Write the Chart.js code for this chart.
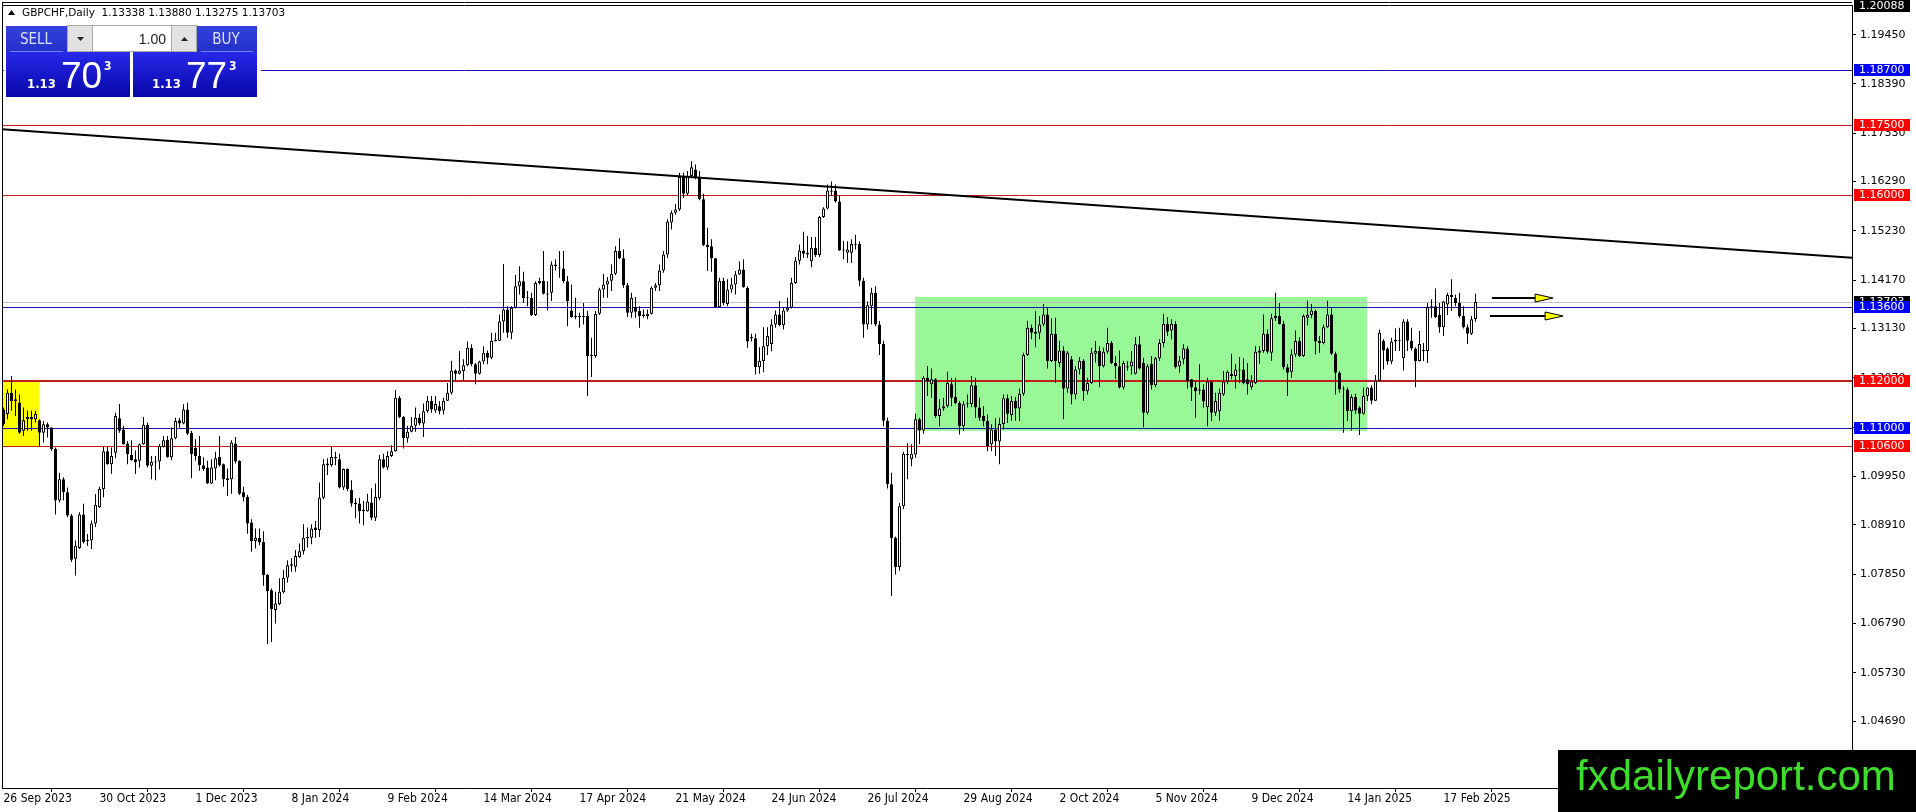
<!DOCTYPE html>
<html>
<head>
<meta charset="utf-8">
<title>GBPCHF Daily</title>
<script src="https://cdn.jsdelivr.net/npm/chart.js@4.4.1/dist/chart.umd.min.js"></script>
<style>
  html, body { margin: 0; padding: 0; background: #fff; overflow: hidden; }
  canvas { display: block; }
</style>
</head>
<body>
<canvas id="gbpchf" width="1916" height="812"></canvas>
<script>
// GBPCHF daily bars, 26 Sep 2023 .. late Feb 2025, one value per bar
const opens = [
  1.1139, 1.1129, 1.1175, 1.1157, 1.1154, 1.1093, 1.1118, 1.1123, 1.1118, 1.1116,
  1.1089, 1.1107, 1.1100, 1.1054, 1.0943, 1.0989, 1.0961, 1.0911, 1.0818, 1.0841,
  1.0913, 1.0859, 1.0857, 1.0894, 1.0929, 1.0968, 1.1049, 1.1021, 1.1046, 1.1120,
  1.1096, 1.1066, 1.1041, 1.1032, 1.1029, 1.1064, 1.1106, 1.1018, 1.1027, 1.1027,
  1.1059, 1.1074, 1.1036, 1.1077, 1.1116, 1.1109, 1.1139, 1.1089, 1.1056, 1.1039,
  1.1019, 1.1014, 1.0980, 1.1012, 1.1037, 1.1021, 1.0991, 1.0989, 1.1066, 1.1028,
  1.0961, 1.0951, 1.0896, 1.0856, 1.0863, 1.0854, 1.0783, 1.0750, 1.0708, 1.0720,
  1.0746, 1.0777, 1.0803, 1.0801, 1.0822, 1.0834, 1.0862, 1.0863, 1.0885, 1.0880,
  1.0949, 1.1023, 1.1019, 1.1037, 1.1032, 1.0971, 1.1011, 1.0966, 1.0939, 1.0937,
  1.0923, 1.0920, 1.0939, 1.0906, 1.0948, 1.1032, 1.1014, 1.1039, 1.1049, 1.1164,
  1.1123, 1.1077, 1.1091, 1.1104, 1.1121, 1.1109, 1.1135, 1.1157, 1.1137, 1.1146,
  1.1137, 1.1158, 1.1175, 1.1223, 1.1216, 1.1222, 1.1234, 1.1272, 1.1236, 1.1216,
  1.1242, 1.1261, 1.1250, 1.1286, 1.1287, 1.1328, 1.1354, 1.1304, 1.1358, 1.1404,
  1.1415, 1.1379, 1.1379, 1.1342, 1.1411, 1.1416, 1.1388, 1.1390, 1.1447, 1.1444,
  1.1442, 1.1415, 1.1352, 1.1338, 1.1339, 1.1338, 1.1340, 1.1256, 1.1254, 1.1345,
  1.1397, 1.1408, 1.1416, 1.1431, 1.1480, 1.1464, 1.1406, 1.1347, 1.1359, 1.1351,
  1.1343, 1.1340, 1.1345, 1.1401, 1.1406, 1.1438, 1.1472, 1.1541, 1.1562, 1.1569,
  1.1639, 1.1603, 1.1641, 1.1655, 1.1637, 1.1591, 1.1493, 1.1490, 1.1464, 1.1359,
  1.1416, 1.1366, 1.1397, 1.1408, 1.1429, 1.1440, 1.1401, 1.1295, 1.1292, 1.1230,
  1.1243, 1.1275, 1.1280, 1.1322, 1.1343, 1.1320, 1.1352, 1.1358, 1.1411, 1.1459,
  1.1481, 1.1476, 1.1458, 1.1487, 1.1471, 1.1553, 1.1571, 1.1607, 1.1610, 1.1586,
  1.1483, 1.1476, 1.1476, 1.1493, 1.1495, 1.1416, 1.1322, 1.1361, 1.1390, 1.1322,
  1.1280, 1.1115, 1.0978, 1.0863, 1.0800, 1.0931, 1.1041, 1.1032, 1.1042, 1.1118,
  1.1094, 1.1207, 1.1193, 1.1204, 1.1125, 1.1141, 1.1146, 1.1193, 1.1166, 1.1153,
  1.1103, 1.1152, 1.1151, 1.1191, 1.1143, 1.1125, 1.1114, 1.1064, 1.1096, 1.1070,
  1.1108, 1.1163, 1.1127, 1.1157, 1.1141, 1.1173, 1.1256, 1.1315, 1.1302, 1.1304,
  1.1322, 1.1343, 1.1243, 1.1302, 1.1239, 1.1266, 1.1184, 1.1247, 1.1171, 1.1225,
  1.1244, 1.1178, 1.1196, 1.1259, 1.1265, 1.1232, 1.1263, 1.1282, 1.1239, 1.1232,
  1.1186, 1.1229, 1.1232, 1.1216, 1.1279, 1.1239, 1.1132, 1.1237, 1.1191, 1.1249,
  1.1282, 1.1323, 1.1309, 1.1323, 1.1232, 1.1247, 1.1270, 1.1204, 1.1187, 1.1182,
  1.1182, 1.1144, 1.1199, 1.1132, 1.1135, 1.1171, 1.1199, 1.1216, 1.1211, 1.1225,
  1.1225, 1.1204, 1.1187, 1.1196, 1.1266, 1.1265, 1.1302, 1.1261, 1.1335, 1.1340,
  1.1323, 1.1230, 1.1220, 1.1257, 1.1286, 1.1254, 1.1336, 1.1342, 1.1351, 1.1286,
  1.1282, 1.1316, 1.1343, 1.1259, 1.1218, 1.1184, 1.1182, 1.1135, 1.1166, 1.1143,
  1.1130, 1.1168, 1.1186, 1.1158, 1.1201, 1.1286, 1.1270, 1.1242, 1.1285, 1.1289,
  1.1249, 1.1328, 1.1287, 1.1270, 1.1243, 1.1266, 1.1265, 1.1359, 1.1361, 1.1342,
  1.1316, 1.1365, 1.1385, 1.1379, 1.1368, 1.1340, 1.1316, 1.1302, 1.13338
];
const highs = [
  1.1143, 1.1182, 1.1211, 1.1182, 1.1171, 1.1143, 1.1136, 1.1136, 1.1136, 1.1118,
  1.1114, 1.1111, 1.1101, 1.1057, 1.1003, 1.0993, 1.0971, 1.0914, 1.0857, 1.0918,
  1.0936, 1.0871, 1.0900, 1.0957, 1.0973, 1.1059, 1.1059, 1.1057, 1.1132, 1.1151,
  1.1104, 1.1071, 1.1073, 1.1051, 1.1066, 1.1123, 1.1111, 1.1039, 1.1039, 1.1064,
  1.1082, 1.1082, 1.1100, 1.1121, 1.1121, 1.1150, 1.1154, 1.1093, 1.1075, 1.1082,
  1.1036, 1.1029, 1.1032, 1.1048, 1.1082, 1.1023, 1.1012, 1.1073, 1.1080, 1.1030,
  1.0973, 1.0955, 1.0903, 1.0883, 1.0883, 1.0877, 1.0786, 1.0754, 1.0747, 1.0776,
  1.0794, 1.0815, 1.0819, 1.0837, 1.0851, 1.0892, 1.0885, 1.0892, 1.0899, 1.0982,
  1.1032, 1.1034, 1.1059, 1.1048, 1.1044, 1.1012, 1.1012, 1.0987, 1.0948, 1.0949,
  1.0942, 1.0958, 1.0969, 1.0980, 1.1041, 1.1044, 1.1049, 1.1062, 1.1181, 1.1168,
  1.1125, 1.1104, 1.1123, 1.1143, 1.1130, 1.1152, 1.1168, 1.1168, 1.1168, 1.1157,
  1.1164, 1.1196, 1.1244, 1.1225, 1.1265, 1.1247, 1.1285, 1.1279, 1.1239, 1.1244,
  1.1275, 1.1266, 1.1304, 1.1304, 1.1343, 1.1452, 1.1361, 1.1361, 1.1428, 1.1447,
  1.1435, 1.1394, 1.1390, 1.1415, 1.1422, 1.1480, 1.1415, 1.1458, 1.1462, 1.1480,
  1.1480, 1.1426, 1.1408, 1.1379, 1.1347, 1.1368, 1.1351, 1.1293, 1.1351, 1.1401,
  1.1431, 1.1424, 1.1451, 1.1490, 1.1507, 1.1483, 1.1411, 1.1390, 1.1381, 1.1361,
  1.1354, 1.1354, 1.1404, 1.1411, 1.1451, 1.1480, 1.1548, 1.1567, 1.1581, 1.1648,
  1.1648, 1.1652, 1.1673, 1.1666, 1.1652, 1.1603, 1.1530, 1.1505, 1.1465, 1.1422,
  1.1422, 1.1419, 1.1422, 1.1437, 1.1457, 1.1462, 1.1404, 1.1302, 1.1302, 1.1273,
  1.1316, 1.1316, 1.1333, 1.1352, 1.1372, 1.1358, 1.1379, 1.1422, 1.1467, 1.1494,
  1.1521, 1.1512, 1.1510, 1.1510, 1.1555, 1.1574, 1.1623, 1.1629, 1.1623, 1.1598,
  1.1502, 1.1501, 1.1505, 1.1515, 1.1501, 1.1422, 1.1371, 1.1401, 1.1404, 1.1329,
  1.1287, 1.1121, 1.1003, 1.0866, 1.0938, 1.1048, 1.1067, 1.1064, 1.1130, 1.1121,
  1.1211, 1.1232, 1.1227, 1.1206, 1.1161, 1.1164, 1.1220, 1.1207, 1.1207, 1.1157,
  1.1157, 1.1171, 1.1211, 1.1207, 1.1164, 1.1146, 1.1128, 1.1107, 1.1120, 1.1121,
  1.1171, 1.1171, 1.1168, 1.1166, 1.1184, 1.1261, 1.1330, 1.1322, 1.1351, 1.1340,
  1.1366, 1.1358, 1.1335, 1.1336, 1.1287, 1.1275, 1.1264, 1.1254, 1.1232, 1.1252,
  1.1247, 1.1207, 1.1272, 1.1286, 1.1275, 1.1272, 1.1315, 1.1286, 1.1254, 1.1266,
  1.1244, 1.1243, 1.1265, 1.1295, 1.1297, 1.1250, 1.1237, 1.1254, 1.1252, 1.1290,
  1.1345, 1.1338, 1.1333, 1.1329, 1.1254, 1.1279, 1.1275, 1.1204, 1.1200, 1.1236,
  1.1193, 1.1207, 1.1201, 1.1175, 1.1184, 1.1222, 1.1223, 1.1259, 1.1237, 1.1252,
  1.1249, 1.1239, 1.1213, 1.1275, 1.1275, 1.1343, 1.1311, 1.1345, 1.1390, 1.1368,
  1.1330, 1.1237, 1.1268, 1.1309, 1.1295, 1.1343, 1.1373, 1.1366, 1.1354, 1.1297,
  1.1322, 1.1373, 1.1358, 1.1263, 1.1222, 1.1189, 1.1186, 1.1171, 1.1173, 1.1146,
  1.1186, 1.1187, 1.1191, 1.1213, 1.1311, 1.1290, 1.1273, 1.1293, 1.1313, 1.1315,
  1.1333, 1.1333, 1.1315, 1.1273, 1.1308, 1.1282, 1.1368, 1.1376, 1.1399, 1.1368,
  1.1373, 1.1390, 1.1419, 1.1386, 1.1390, 1.1361, 1.1322, 1.1340, 1.13880
];
const lows = [
  1.1104, 1.1118, 1.1136, 1.1125, 1.1087, 1.1082, 1.1093, 1.1093, 1.1111, 1.1059,
  1.1068, 1.1079, 1.1050, 1.0913, 1.0939, 1.0943, 1.0907, 1.0811, 1.0782, 1.0839,
  1.0851, 1.0846, 1.0839, 1.0886, 1.0927, 1.0950, 1.1020, 1.1001, 1.1034, 1.1089,
  1.1063, 1.1021, 1.1029, 1.1000, 1.1014, 1.1063, 1.1014, 1.0989, 1.0987, 1.1010,
  1.1057, 1.1035, 1.1030, 1.1075, 1.1100, 1.1107, 1.1084, 1.0991, 1.1029, 1.1007,
  1.1007, 1.0979, 1.0979, 1.0987, 1.1016, 1.0973, 1.0953, 1.0958, 1.1023, 1.0955,
  1.0941, 1.0872, 1.0833, 1.0840, 1.0847, 1.0760, 1.0634, 1.0639, 1.0679, 1.0718,
  1.0743, 1.0767, 1.0790, 1.0790, 1.0820, 1.0827, 1.0842, 1.0849, 1.0863, 1.0865,
  1.0946, 1.0998, 1.1016, 1.1019, 1.0969, 1.0966, 1.0963, 1.0930, 1.0905, 1.0894,
  1.0890, 1.0919, 1.0901, 1.0899, 1.0944, 1.1012, 1.1009, 1.1037, 1.1048, 1.1120,
  1.1055, 1.1068, 1.1090, 1.1091, 1.1105, 1.1080, 1.1132, 1.1132, 1.1132, 1.1128,
  1.1128, 1.1157, 1.1171, 1.1201, 1.1214, 1.1201, 1.1232, 1.1232, 1.1193, 1.1214,
  1.1236, 1.1236, 1.1247, 1.1285, 1.1286, 1.1304, 1.1293, 1.1290, 1.1356, 1.1386,
  1.1368, 1.1361, 1.1340, 1.1340, 1.1408, 1.1386, 1.1352, 1.1372, 1.1438, 1.1422,
  1.1411, 1.1318, 1.1336, 1.1333, 1.1315, 1.1322, 1.1168, 1.1209, 1.1250, 1.1342,
  1.1379, 1.1379, 1.1394, 1.1428, 1.1462, 1.1401, 1.1338, 1.1336, 1.1336, 1.1315,
  1.1336, 1.1333, 1.1343, 1.1394, 1.1394, 1.1433, 1.1465, 1.1526, 1.1558, 1.1566,
  1.1594, 1.1598, 1.1636, 1.1634, 1.1589, 1.1490, 1.1437, 1.1435, 1.1358, 1.1358,
  1.1363, 1.1361, 1.1390, 1.1386, 1.1428, 1.1401, 1.1272, 1.1285, 1.1214, 1.1216,
  1.1219, 1.1256, 1.1264, 1.1315, 1.1318, 1.1311, 1.1349, 1.1356, 1.1409, 1.1451,
  1.1465, 1.1465, 1.1445, 1.1467, 1.1467, 1.1551, 1.1569, 1.1598, 1.1584, 1.1480,
  1.1462, 1.1454, 1.1454, 1.1483, 1.1404, 1.1293, 1.1311, 1.1322, 1.1318, 1.1256,
  1.1103, 1.0969, 1.0738, 1.0784, 1.0792, 1.0925, 1.0989, 1.1017, 1.1035, 1.1064,
  1.1087, 1.1168, 1.1164, 1.1121, 1.1103, 1.1136, 1.1143, 1.1146, 1.1150, 1.1085,
  1.1092, 1.1143, 1.1144, 1.1121, 1.1114, 1.1103, 1.1049, 1.1049, 1.1039, 1.1021,
  1.1096, 1.1110, 1.1115, 1.1115, 1.1114, 1.1168, 1.1254, 1.1290, 1.1273, 1.1290,
  1.1318, 1.1227, 1.1241, 1.1196, 1.1230, 1.1118, 1.1175, 1.1150, 1.1161, 1.1214,
  1.1158, 1.1171, 1.1194, 1.1240, 1.1187, 1.1229, 1.1259, 1.1236, 1.1204, 1.1184,
  1.1182, 1.1223, 1.1214, 1.1214, 1.1225, 1.1101, 1.1128, 1.1182, 1.1187, 1.1244,
  1.1273, 1.1297, 1.1290, 1.1227, 1.1218, 1.1236, 1.1184, 1.1157, 1.1121, 1.1171,
  1.1143, 1.1103, 1.1114, 1.1125, 1.1115, 1.1168, 1.1193, 1.1204, 1.1184, 1.1196,
  1.1193, 1.1171, 1.1182, 1.1194, 1.1237, 1.1261, 1.1259, 1.1244, 1.1329, 1.1322,
  1.1225, 1.1168, 1.1207, 1.1252, 1.1252, 1.1252, 1.1320, 1.1335, 1.1257, 1.1261,
  1.1279, 1.1315, 1.1256, 1.1171, 1.1175, 1.1089, 1.1114, 1.1094, 1.1130, 1.1084,
  1.1128, 1.1157, 1.1150, 1.1157, 1.1199, 1.1225, 1.1235, 1.1236, 1.1265, 1.1265,
  1.1223, 1.1265, 1.1266, 1.1187, 1.1242, 1.1243, 1.1239, 1.1336, 1.1335, 1.1304,
  1.1297, 1.1342, 1.1351, 1.1361, 1.1336, 1.1313, 1.1280, 1.1299, 1.13275
];
const closes = [
  1.1107, 1.1175, 1.1157, 1.1161, 1.1089, 1.1116, 1.1123, 1.1118, 1.1129, 1.1089,
  1.1107, 1.1100, 1.1054, 1.0943, 1.0989, 1.0961, 1.0911, 1.0816, 1.0846, 1.0913,
  1.0854, 1.0856, 1.0894, 1.0934, 1.0968, 1.1049, 1.1021, 1.1039, 1.1125, 1.1093,
  1.1064, 1.1043, 1.1030, 1.1026, 1.1064, 1.1106, 1.1018, 1.1026, 1.1025, 1.1061,
  1.1073, 1.1036, 1.1077, 1.1114, 1.1109, 1.1139, 1.1087, 1.1043, 1.1039, 1.1019,
  1.1011, 1.0980, 1.1014, 1.1034, 1.1019, 1.0989, 1.0987, 1.1068, 1.1027, 1.0958,
  1.0951, 1.0894, 1.0856, 1.0863, 1.0853, 1.0783, 1.0748, 1.0710, 1.0722, 1.0747,
  1.0777, 1.0804, 1.0806, 1.0824, 1.0834, 1.0863, 1.0865, 1.0883, 1.0880, 1.0949,
  1.1021, 1.1019, 1.1037, 1.1034, 1.0971, 1.1011, 1.0968, 1.0937, 1.0935, 1.0920,
  1.0920, 1.0941, 1.0906, 1.0951, 1.1032, 1.1014, 1.1039, 1.1049, 1.1164, 1.1123,
  1.1077, 1.1091, 1.1104, 1.1121, 1.1109, 1.1135, 1.1158, 1.1139, 1.1151, 1.1135,
  1.1158, 1.1175, 1.1223, 1.1216, 1.1223, 1.1234, 1.1272, 1.1236, 1.1216, 1.1242,
  1.1261, 1.1250, 1.1287, 1.1289, 1.1328, 1.1354, 1.1304, 1.1358, 1.1404, 1.1415,
  1.1378, 1.1378, 1.1342, 1.1411, 1.1416, 1.1388, 1.1386, 1.1451, 1.1451, 1.1442,
  1.1415, 1.1372, 1.1338, 1.1340, 1.1338, 1.1340, 1.1254, 1.1254, 1.1345, 1.1397,
  1.1408, 1.1416, 1.1431, 1.1480, 1.1464, 1.1406, 1.1347, 1.1379, 1.1349, 1.1340,
  1.1340, 1.1345, 1.1401, 1.1406, 1.1438, 1.1472, 1.1543, 1.1562, 1.1569, 1.1639,
  1.1603, 1.1641, 1.1660, 1.1637, 1.1591, 1.1492, 1.1488, 1.1464, 1.1359, 1.1416,
  1.1368, 1.1397, 1.1408, 1.1429, 1.1440, 1.1402, 1.1285, 1.1292, 1.1230, 1.1244,
  1.1275, 1.1297, 1.1322, 1.1343, 1.1320, 1.1352, 1.1358, 1.1411, 1.1459, 1.1481,
  1.1474, 1.1472, 1.1487, 1.1471, 1.1553, 1.1571, 1.1610, 1.1610, 1.1586, 1.1481,
  1.1481, 1.1483, 1.1495, 1.1495, 1.1416, 1.1322, 1.1363, 1.1390, 1.1322, 1.1280,
  1.1115, 1.0978, 1.0862, 1.0800, 1.0931, 1.1044, 1.1044, 1.1044, 1.1118, 1.1094,
  1.1207, 1.1200, 1.1204, 1.1125, 1.1141, 1.1146, 1.1196, 1.1164, 1.1153, 1.1103,
  1.1150, 1.1150, 1.1191, 1.1143, 1.1121, 1.1114, 1.1060, 1.1096, 1.1070, 1.1108,
  1.1163, 1.1130, 1.1157, 1.1141, 1.1173, 1.1256, 1.1315, 1.1304, 1.1306, 1.1322,
  1.1343, 1.1243, 1.1302, 1.1243, 1.1266, 1.1184, 1.1261, 1.1171, 1.1225, 1.1244,
  1.1178, 1.1196, 1.1261, 1.1265, 1.1232, 1.1263, 1.1282, 1.1239, 1.1232, 1.1186,
  1.1239, 1.1232, 1.1242, 1.1279, 1.1227, 1.1132, 1.1232, 1.1191, 1.1249, 1.1282,
  1.1323, 1.1306, 1.1323, 1.1230, 1.1244, 1.1270, 1.1200, 1.1186, 1.1178, 1.1179,
  1.1156, 1.1199, 1.1132, 1.1157, 1.1175, 1.1199, 1.1220, 1.1211, 1.1225, 1.1223,
  1.1196, 1.1193, 1.1199, 1.1263, 1.1261, 1.1302, 1.1263, 1.1335, 1.1340, 1.1323,
  1.1230, 1.1218, 1.1257, 1.1286, 1.1254, 1.1340, 1.1342, 1.1352, 1.1285, 1.1282,
  1.1316, 1.1343, 1.1259, 1.1218, 1.1182, 1.1182, 1.1135, 1.1166, 1.1137, 1.1130,
  1.1168, 1.1186, 1.1158, 1.1201, 1.1304, 1.1266, 1.1242, 1.1285, 1.1289, 1.1287,
  1.1328, 1.1287, 1.1270, 1.1243, 1.1280, 1.1265, 1.1359, 1.1361, 1.1338, 1.1316,
  1.1371, 1.1385, 1.1381, 1.1368, 1.1340, 1.1316, 1.1302, 1.1333, 1.13703
];

// time axis: bar number where each date label sits, and the label text
const dateTickBars = [0, 24, 48, 72, 96, 120, 144, 168, 192, 216, 240, 264, 288, 312, 336, 360];
const dateTicks = ['26 Sep 2023', '30 Oct 2023', '1 Dec 2023', '8 Jan 2024', '9 Feb 2024', '14 Mar 2024',
  '17 Apr 2024', '21 May 2024', '24 Jun 2024', '26 Jul 2024', '29 Aug 2024', '2 Oct 2024',
  '5 Nov 2024', '9 Dec 2024', '14 Jan 2025', '17 Feb 2025'];
const priceTicks = [1.19450, 1.18390, 1.17330, 1.16290, 1.15230, 1.14170, 1.13130, 1.12070,
  1.11010, 1.09950, 1.08910, 1.07850, 1.06790, 1.05730, 1.04690];

const chartHigh = 1.20088;
const chartLow = 1.0325;
const lastBarSlot = 462.125;   // chart shift: empty bars to the right

// drawn objects (in bar / price units)
const blueLevels = [1.187, 1.136, 1.11];
const redLevels = [1.175, 1.16, 1.106];
const keyLevel = 1.12;
const startZone = { from: -0.4, to: 8.9, top: 1.12, bottom: 1.106 };
const rangeZone = { from: 227.9, to: 340.9, top: 1.1381, bottom: 1.1093 };
const trendLine = { x1: -0.9, y1: 1.1742, x2: 462.2, y2: 1.1465 };
const arrows = [
  { from: 372.1, to: 387.4, price: 1.1379 },
  { from: 371.6, to: 389.9, price: 1.1340 }
];

const symbol = 'GBPCHF';
const timeframe = 'Daily';
const askPrice = 1.13773;
const lotSize = '1.00';

const last = opens.length - 1;
const bidPrice = closes[last];
const bars = opens.map((o, i) => i);
const isUp = i => closes[i] >= opens[i];

const condensed = "'DejaVu Sans Condensed', 'Liberation Sans Narrow', 'DejaVu Sans', sans-serif";

function drawPanel(ctx) {
  ctx.fillStyle = '#fff';
  ctx.fillRect(4, 23, 257, 77);

  // SELL / BUY caption parts
  const cap = ctx.createLinearGradient(0, 26, 0, 52);
  cap.addColorStop(0, '#3441DE');
  cap.addColorStop(1, '#2331C9');
  ctx.fillStyle = cap;
  ctx.fillRect(6, 26, 61, 26);
  ctx.fillRect(197, 26, 60, 26);
  ctx.fillStyle = '#7781EE';
  ctx.fillRect(10, 51, 53, 1);
  ctx.fillRect(201, 51, 52, 1);

  // price parts
  const pr = ctx.createLinearGradient(0, 52, 0, 97);
  pr.addColorStop(0, '#2828EA');
  pr.addColorStop(1, '#0707A8');
  ctx.fillStyle = pr;
  ctx.fillRect(6, 52, 124, 45);
  ctx.fillRect(133, 52, 124, 45);

  // lot control
  ctx.fillStyle = '#A8A8A8';
  ctx.fillRect(67, 25, 130, 27);
  ctx.fillStyle = '#E2E2E2';
  ctx.fillRect(68, 26, 24, 25);
  ctx.fillRect(172, 26, 24, 25);
  ctx.fillStyle = '#fff';
  ctx.fillRect(93, 26, 78, 25);
  ctx.fillStyle = '#222';
  ctx.beginPath(); ctx.moveTo(77, 37); ctx.lineTo(84, 37); ctx.lineTo(80.5, 41); ctx.closePath(); ctx.fill();
  ctx.beginPath(); ctx.moveTo(181, 41); ctx.lineTo(188, 41); ctx.lineTo(184.5, 37); ctx.closePath(); ctx.fill();
  ctx.font = "14px 'Liberation Sans', sans-serif";
  ctx.textAlign = 'right';
  ctx.textBaseline = 'alphabetic';
  ctx.fillText(lotSize, 166, 44);

  ctx.fillStyle = '#DDE1FF';
  ctx.textAlign = 'center';
  ctx.font = '15px ' + condensed;
  ctx.fillText('SELL', 36, 44);
  ctx.fillText('BUY', 226, 44);

  const quote = (p, x0) => {
    const s = p.toFixed(5);
    ctx.fillStyle = '#fff';
    ctx.textAlign = 'left';
    ctx.font = 'bold 13px ' + condensed;
    ctx.fillText(s.slice(0, 4), x0, 88);
    ctx.font = "37px 'Liberation Sans', sans-serif";
    ctx.fillText(s.slice(4, 6), x0 + 34, 88);
    ctx.font = 'bold 12px ' + condensed;
    ctx.fillText(s.slice(6), x0 + 77, 70);
  };
  quote(bidPrice, 27);
  quote(askPrice, 152);
}

const overlay = {
  id: 'overlay',
  beforeDatasetsDraw(chart) {
    const { ctx, chartArea: a, scales: { x, y } } = chart;
    ctx.save();
    ctx.beginPath();
    ctx.rect(a.left, a.top, a.right - a.left, a.bottom - a.top);
    ctx.clip();
    const zone = (z, color) => {
      const l = x.getPixelForValue(z.from), r = x.getPixelForValue(z.to);
      const t = y.getPixelForValue(z.top), b = y.getPixelForValue(z.bottom);
      ctx.fillStyle = color;
      ctx.fillRect(l, t, r - l, b - t);
    };
    zone(startZone, '#FFFF00');
    zone(rangeZone, '#98F898');
    const hline = (v, color, w) => {
      const yy = Math.round(y.getPixelForValue(v)) + (w % 2 ? 0.5 : 0);
      ctx.strokeStyle = color;
      ctx.lineWidth = w;
      ctx.beginPath();
      ctx.moveTo(a.left, yy);
      ctx.lineTo(a.right, yy);
      ctx.stroke();
    };
    hline(bidPrice, '#C0C0C0', 1);
    blueLevels.forEach(v => hline(v, '#1414B0', 1));
    redLevels.forEach(v => hline(v, '#C81C1C', 1));
    hline(keyLevel, '#BE1E1E', 2);
    ctx.restore();
  },
  afterDatasetsDraw(chart) {
    const { ctx, chartArea: a, scales: { x, y } } = chart;
    ctx.save();
    ctx.beginPath();
    ctx.rect(a.left, a.top, a.right - a.left, a.bottom - a.top);
    ctx.clip();
    ctx.strokeStyle = '#000';
    ctx.lineWidth = 2;
    ctx.beginPath();
    ctx.moveTo(x.getPixelForValue(trendLine.x1), y.getPixelForValue(trendLine.y1));
    ctx.lineTo(x.getPixelForValue(trendLine.x2), y.getPixelForValue(trendLine.y2));
    ctx.stroke();
    for (const ar of arrows) {
      const x0 = x.getPixelForValue(ar.from), x1 = x.getPixelForValue(ar.to);
      const yy = Math.round(y.getPixelForValue(ar.price));
      ctx.strokeStyle = '#000';
      ctx.lineWidth = 2;
      ctx.beginPath();
      ctx.moveTo(x0, yy);
      ctx.lineTo(x1 - 16, yy);
      ctx.stroke();
      ctx.beginPath();
      ctx.moveTo(x1 - 18, yy - 4);
      ctx.lineTo(x1, yy);
      ctx.lineTo(x1 - 18, yy + 4);
      ctx.closePath();
      ctx.fillStyle = '#FFFF00';
      ctx.fill();
      ctx.lineWidth = 1;
      ctx.stroke();
    }
    ctx.restore();
  },
  afterDraw(chart) {
    const { ctx, chartArea: a, scales: { y } } = chart;
    ctx.save();
    // frame
    ctx.strokeStyle = '#000';
    ctx.lineWidth = 1;
    ctx.beginPath();
    ctx.moveTo(2, 2.5); ctx.lineTo(a.right, 2.5);
    ctx.moveTo(2, 5.5); ctx.lineTo(a.right, 5.5);
    ctx.moveTo(2.5, 2); ctx.lineTo(2.5, a.bottom);
    ctx.stroke();

    // price tags on the right scale
    const tag = (v, bg, cy) => {
      const yy = cy !== undefined ? cy : Math.round(y.getPixelForValue(v));
      ctx.fillStyle = bg;
      ctx.fillRect(a.right + 2, yy - 6, 56, 12);
      ctx.fillStyle = '#fff';
      ctx.font = "11px 'DejaVu Sans', sans-serif";
      ctx.textAlign = 'left';
      ctx.textBaseline = 'middle';
      ctx.fillText(v.toFixed(5), a.right + 7, yy + 0.5);
    };
    tag(chartHigh, '#000', Math.max(6, Math.round(y.getPixelForValue(chartHigh)) + 1));
    tag(bidPrice, '#000');
    blueLevels.forEach(v => tag(v, '#0000FF'));
    redLevels.forEach(v => tag(v, '#FF0000'));
    tag(keyLevel, '#FF0000');

    // symbol caption
    ctx.fillStyle = '#000';
    ctx.beginPath(); ctx.moveTo(8, 15); ctx.lineTo(15, 15); ctx.lineTo(11.5, 10); ctx.closePath(); ctx.fill();
    ctx.font = "10.5px 'DejaVu Sans', sans-serif";
    ctx.textAlign = 'left';
    ctx.textBaseline = 'alphabetic';
    const ohlc = [opens[last], highs[last], lows[last], closes[last]].map(v => v.toFixed(5)).join(' ');
    ctx.fillText(symbol + ',' + timeframe + '  ' + ohlc, 22, 16);

    drawPanel(ctx);

    // site badge
    ctx.fillStyle = '#000';
    ctx.fillRect(1558, 750, 358, 62);
    ctx.fillStyle = '#3EDC2B';
    ctx.font = "42px 'Liberation Sans', Arial, sans-serif";
    ctx.textAlign = 'left';
    ctx.textBaseline = 'alphabetic';
    ctx.fillText('fxdailyreport.com', 1576, 790);
    ctx.restore();
  }
};

new Chart(document.getElementById('gbpchf'), {
  type: 'bar',
  data: {
    datasets: [
      {
        label: 'body',
        data: bars.map(i => ({ x: i, y: [Math.min(opens[i], closes[i]), Math.max(opens[i], closes[i])] })),
        backgroundColor: ctx => isUp(ctx.dataIndex) ? '#ffffff' : '#000000',
        borderColor: '#000000',
        borderWidth: 1,
        borderSkipped: false,
        barThickness: 3,
        minBarLength: 1,
        grouped: false,
        inflateAmount: 0,
        order: 1
      },
      {
        label: 'wick',
        data: bars.map(i => ({ x: i, y: [lows[i], highs[i]] })),
        backgroundColor: '#000000',
        borderWidth: 0,
        barThickness: 1,
        minBarLength: 1,
        grouped: false,
        inflateAmount: 0,
        order: 2
      }
    ]
  },
  options: {
    responsive: false,
    animation: false,
    events: [],
    layout: { padding: { left: 2, top: 5, right: 0, bottom: 0 } },
    plugins: { legend: { display: false }, tooltip: { enabled: false } },
    scales: {
      x: {
        type: 'linear',
        min: -0.375,
        max: lastBarSlot,
        bounds: 'data',
        offset: false,
        afterBuildTicks: s => { s.ticks = dateTickBars.map(v => ({ value: v })); },
        afterFit: s => { s.height = 24; s.paddingLeft = 0; s.paddingRight = 0; },
        ticks: {
          callback: (v, i) => dateTicks[i],
          align: 'start',
          maxRotation: 0,
          autoSkip: false,
          padding: 0,
          color: '#000',
          font: { family: condensed, size: 12 }
        },
        grid: { drawOnChartArea: false, tickLength: 4, color: '#000' },
        border: { color: '#000', width: 1 }
      },
      y: {
        position: 'right',
        min: chartLow,
        max: chartHigh,
        bounds: 'data',
        afterBuildTicks: s => { s.ticks = priceTicks.map(v => ({ value: v })); },
        afterFit: s => { s.width = 64; s.paddingTop = 0; s.paddingBottom = 0; },
        ticks: {
          callback: v => Number(v).toFixed(5),
          autoSkip: false,
          padding: 4,
          color: '#000',
          font: { family: "'DejaVu Sans', sans-serif", size: 11 }
        },
        grid: { drawOnChartArea: false, tickLength: 4, color: '#000' },
        border: { color: '#000', width: 1 }
      }
    }
  },
  plugins: [overlay]
});
</script>
</body>
</html>
